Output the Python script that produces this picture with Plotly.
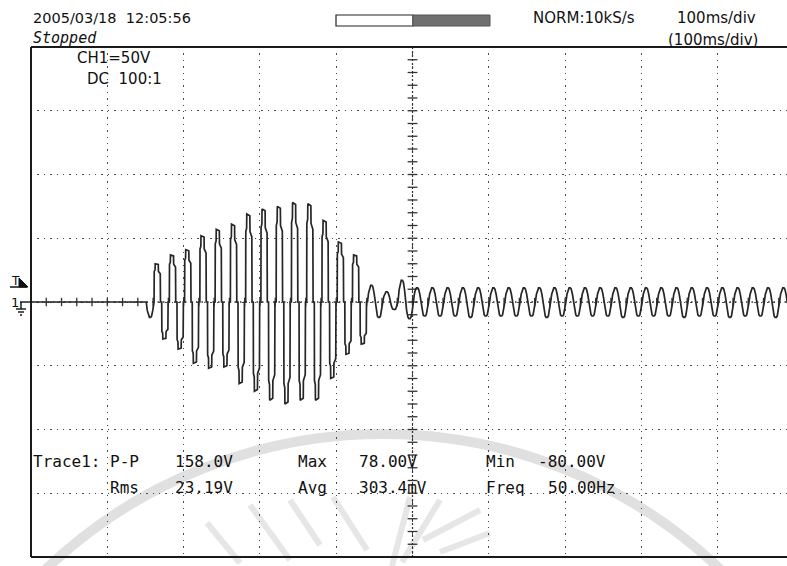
import plotly.graph_objects as go

# ---------------- scope settings ----------------
FIG_W, FIG_H = 787, 566
M_L, M_R, M_T, M_B = 31, 0, 47, 9
TIME_RANGE_MS = [0, 990.8]       # 100 ms/div, right edge of the screen cut off
VOLT_RANGE = [-200, 200]         # 50 V/div, 8 divisions
HALF_CYCLE_MS = 10.0             # 50 Hz mains
BURST_START_MS = 151.0

# ---------------- captured waveform ----------------
# peak value of each half cycle during the disturbance (V)
burst_peak_v = [-12, 30, -29, 37, -37, 41, -48, 52, -52, 57, -51, 61,
                -64, 69, -70, 73, -77, 75, -80, 78, -77, 77, -77, 64,
                -60, 47, -41, 37, -33, 13, -12, 8, -6, 17, -13]
# peak value of each half cycle after the disturbance (V)
steady_peak_v = [11, -11, 11, -11, 11, -11, 11, -12, 11, -11, 11, -11,
                 11, -11, 11, -11, 11, -12, 11, -11, 11, -11, 11, -11,
                 11, -11, 11, -12, 11, -11, 11, -11, 11, -11, 11, -12,
                 11, -11, 11, -11, 11, -12, 11, -11, 11, -11, 11, -12, 11]

# half-cycle shape of the chopped (stepped) output, as fraction of half cycle / of peak
step_frac = [0.00, 0.03, 0.05, 0.16, 0.18, 0.58, 0.60, 0.84, 0.87, 1.00]
step_level = [0.00, 0.00, 0.80, 0.84, 1.00, 0.98, 0.80, 0.74, 0.00, 0.00]
# half-cycle shape of the low-level ringing / steady sine
sine_frac = [0.00, 0.14, 0.30, 0.42, 0.58, 0.70, 0.86, 1.00]
sine_level = [0.00, 0.55, 0.92, 1.00, 1.00, 0.92, 0.55, 0.00]

# ---------------- readouts ----------------
header_date = "2005/03/18  12:05:56"
header_state = "Stopped"
header_rate = "NORM:10kS/s"
header_tdiv = "100ms/div"
header_tdiv2 = "(100ms/div)"
ch_label = "CH1=50V"
ch_coupling = "DC  100:1"
meas_rows = [
    ["P-P", "158.0V", "Max", "78.00V", "Min", "-80.00V"],
    ["Rms", "23.19V", "Avg", "303.4mV", "Freq", "50.00Hz"],
]


# ---------------- build the trace ----------------
def append_half(ts, vs, t0, peak, fr, lv):
    for f, l in zip(fr, lv):
        ts.append(t0 + f * HALF_CYCLE_MS)
        vs.append(peak * l)


t_ms = [TIME_RANGE_MS[0], BURST_START_MS]
v = [0.0, 0.0]
t0 = BURST_START_MS
for pk in burst_peak_v:
    if abs(pk) >= 20:
        append_half(t_ms, v, t0, pk, step_frac, step_level)
    else:
        append_half(t_ms, v, t0, pk, sine_frac, sine_level)
    t0 += HALF_CYCLE_MS
for pk in steady_peak_v:
    append_half(t_ms, v, t0, pk, sine_frac, sine_level)
    t0 += HALF_CYCLE_MS


# pixel -> paper helpers for screen furniture
PW = FIG_W - M_L - M_R
PH = FIG_H - M_T - M_B


def px(x):
    return (x - M_L) / PW


def py(y):
    return (FIG_H - M_B - y) / PH


fig = go.Figure()

# centre-line graticule ticks (0.2 div)
t_center = (TIME_RANGE_MS[0] + 1000) / 2
tick_v = list(range(-200, 201, 10))
tick_t = list(range(0, 991, 20))
fig.add_trace(go.Scatter(x=[t_center] * len(tick_v), y=tick_v, mode="markers",
                         marker=dict(symbol="line-ew", size=7,
                                     line=dict(width=1.3, color="#333")),
                         hoverinfo="skip", showlegend=False))
fig.add_trace(go.Scatter(x=tick_t, y=[0] * len(tick_t), mode="markers",
                         marker=dict(symbol="line-ns", size=6,
                                     line=dict(width=1.3, color="#333")),
                         hoverinfo="skip", showlegend=False))

# waveform
fig.add_trace(go.Scatter(x=t_ms, y=v, mode="lines",
                         line=dict(color="#262626", width=1.7),
                         hoverinfo="skip", showlegend=False))

shapes = []
# watermark (faint seal)
wm_cx, wm_cy, wm_r = 383, 922, 488
shapes.append(dict(type="circle", xref="paper", yref="paper", layer="below",
                   x0=px(wm_cx - wm_r), x1=px(wm_cx + wm_r),
                   y0=py(wm_cy + wm_r), y1=py(wm_cy - wm_r),
                   line=dict(color="#e0e0e0", width=10)))
for (xa, ya, xb, yb) in [(207, 523, 240, 563), (250, 505, 290, 560),
                         (290, 500, 320, 545), (333, 497, 367, 550),
                         (392, 566, 410, 497), (402, 562, 440, 500),
                         (423, 540, 480, 510), (440, 552, 490, 533)]:
    shapes.append(dict(type="line", xref="paper", yref="paper", layer="below",
                       x0=px(xa), y0=py(ya), x1=px(xb), y1=py(yb),
                       line=dict(color="#e6e6e6", width=6)))

# centre lines
shapes.append(dict(type="line", xref="x", yref="paper", x0=t_center, x1=t_center,
                   y0=0, y1=1, line=dict(color="#333", width=1.2, dash="2px,2px")))
shapes.append(dict(type="line", xref="paper", yref="y", x0=0, x1=1, y0=0, y1=0,
                   line=dict(color="#333", width=1.3, dash="1.5px,4px")))
# screen frame (left, top, bottom)
for (xa, ya, xb, yb) in [(0, 0, 0, 1), (0, 1, 1, 1), (0, 0, 1, 0)]:
    shapes.append(dict(type="line", xref="paper", yref="paper",
                       x0=xa, y0=ya, x1=xb, y1=yb,
                       line=dict(color="#1a1a1a", width=2)))
# record-length bar
shapes.append(dict(type="rect", xref="paper", yref="paper",
                   x0=px(336), x1=px(413), y0=py(26), y1=py(15),
                   line=dict(color="#222", width=1.2), fillcolor="white"))
shapes.append(dict(type="rect", xref="paper", yref="paper",
                   x0=px(413), x1=px(490), y0=py(26), y1=py(15),
                   line=dict(color="#555", width=1), fillcolor="#6f6f6f"))
# trigger level marker
shapes.append(dict(type="line", xref="paper", yref="paper",
                   x0=px(10), x1=px(27), y0=py(287), y1=py(287),
                   line=dict(color="#111", width=1.5)))
shapes.append(dict(type="path", xref="paper", yref="paper",
                   path=f"M {px(19)},{py(278)} L {px(19)},{py(287)} L {px(28)},{py(287)} Z",
                   fillcolor="#111", line=dict(color="#111", width=1)))
# ground marker
for (xa, ya, xb, yb) in [(20, 302, 31, 302), (21, 302, 21, 309),
                         (16, 309, 26, 309), (18, 312, 24, 312), (20, 315, 22, 315)]:
    shapes.append(dict(type="line", xref="paper", yref="paper",
                       x0=px(xa), y0=py(ya), x1=px(xb), y1=py(yb),
                       line=dict(color="#111", width=1.4)))

SANS = "DejaVu Sans"
MONO = "DejaVu Sans Mono"
annotations = []


def label(text, x, y, size, family=SANS, color="#111"):
    annotations.append(dict(text=text, xref="paper", yref="paper",
                            x=px(x), y=py(y), xanchor="left", yanchor="middle",
                            showarrow=False, font=dict(family=family, size=size, color=color)))


label(header_date, 31, 18, 14.5)
label("<i>" + header_state + "</i>", 31, 38, 15, MONO)
label(header_rate, 531, 18, 15)
label(header_tdiv, 675, 18, 15)
label(header_tdiv2, 666, 40, 15)
label(ch_label, 75, 58, 15)
label(ch_coupling, 85, 79, 15)
label("1", 9, 302, 13, SANS)
label("T", 9, 281, 12, SANS)

label("Trace1:", 31, 461, 16, MONO)
col_x = [108, 173, 296, 357, 484, 536]
row_y = [461, 487]
for r, row in enumerate(meas_rows):
    for c, txt in enumerate(row):
        x = col_x[c]
        if c == 5 and not txt.startswith("-"):
            x += 10  # value column is aligned after the sign position
        label(txt, x, row_y[r], 16, MONO)

axis_common = dict(showline=False, zeroline=False, showticklabels=False,
                   ticks="", gridcolor="#4a4a4a", gridwidth=1.4, griddash="1.4px,5px")
fig.update_layout(
    width=FIG_W, height=FIG_H,
    margin=dict(l=M_L, r=M_R, t=M_T, b=M_B, pad=0),
    paper_bgcolor="white", plot_bgcolor="rgba(0,0,0,0)",
    xaxis=dict(range=TIME_RANGE_MS, dtick=100, tick0=0, **axis_common),
    yaxis=dict(range=VOLT_RANGE, dtick=50, tick0=0, **axis_common),
    shapes=shapes, annotations=annotations, showlegend=False,
)
fig.write_html("out.html")
